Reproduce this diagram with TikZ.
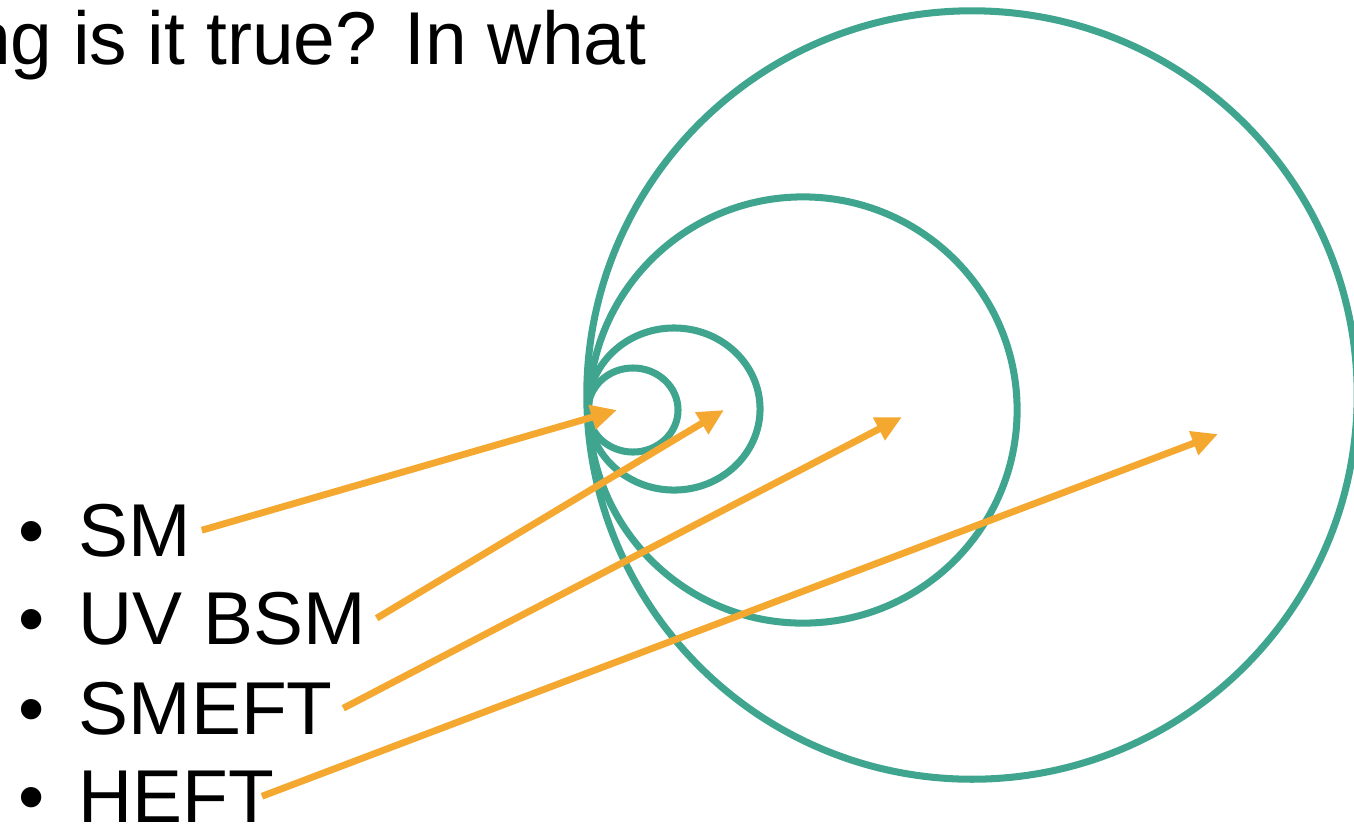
\documentclass[tikz,border=0pt]{standalone}
\usepackage{fontspec}
\setmainfont{Liberation Sans}
\usetikzlibrary{arrows.meta}
\definecolor{ringgreen}{RGB}{64,165,142}
\definecolor{arroworange}{RGB}{245,168,47}

\begin{document}
\begin{tikzpicture}[x=0.01cm, y=-0.01cm,
    every node/.style={font=\fontsize{21.3pt}{25pt}\selectfont, inner sep=0pt},
    ring/.style={ringgreen, line width=2pt},
    pointer/.style={arroworange, line width=1.95pt, -{Triangle[length=0.26cm, width=0.24cm]}},
    item/.style={anchor=base west, inner xsep=0.1cm}]
  \useasboundingbox (0,0) rectangle (1354,823);

  % 标题 (左边被裁掉)
  \node[anchor=base east] (title) at (647,64) {ng is it true? In what};

  % 嵌套的椭圆, 左侧相切
  \draw[ring] (972,395) ellipse [x radius=3.85cm, y radius=3.84cm];
  \draw[ring] (803,410) ellipse [x radius=2.14cm, y radius=2.13cm];
  \draw[ring] (674,409) ellipse [x radius=0.86cm, y radius=0.81cm];
  \draw[ring] (633,410) ellipse [x radius=0.45cm, y radius=0.42cm];

  % 列表
  \node[anchor=base] (b1) at (32,556) {•};
  \node[anchor=base] (b2) at (32,644) {•};
  \node[anchor=base] (b3) at (32,734) {•};
  \node[anchor=base] (b4) at (32,822) {•};
  \node[item] (sm) at (68,556) {SM};
  \node[item] (uvbsm) at (68,644) {UV BSM};
  \node[item] (smeft) at (68,734) {SMEFT};
  \node[item] (heft) at (68,822) {HEFT};

  % 箭头终点
  \coordinate (smtip) at (617,410);
  \coordinate (uvtip) at (724,410);
  \coordinate (smefttip) at (902,417);
  \coordinate (hefttip) at (1218,434);

  \draw[pointer] (sm.east) -- (smtip);
  \draw[pointer] (uvbsm.east) -- (uvtip);
  \draw[pointer] (smeft.east) -- (smefttip);
  \draw[pointer] ([xshift=-0.23cm]heft.east) -- (hefttip);
\end{tikzpicture}
\end{document}
